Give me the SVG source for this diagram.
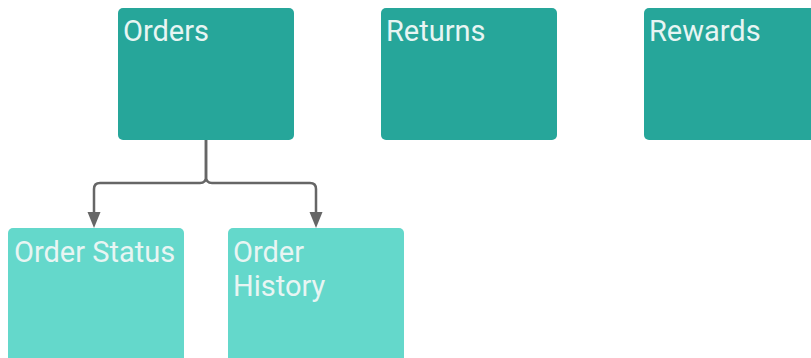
<svg xmlns="http://www.w3.org/2000/svg" width="811" height="358" viewBox="0 0 811 358">
<style>
.dark{fill:#26a69a}
.light{fill:#64d8cb}
.lbl{font-family:Roboto,"Liberation Sans",sans-serif;font-size:29px;fill:#e8f5f3}
.conn{fill:none;stroke:#666;stroke-width:2.5}
.head{fill:#666}
</style>
<rect width="811" height="358" fill="#fff"/>
<g id="orders"><rect class="dark" x="118" y="8" width="176" height="132" rx="5"/><text class="lbl" x="123" y="41">Orders</text></g>
<g id="returns"><rect class="dark" x="381" y="8" width="176" height="132" rx="5"/><text class="lbl" x="386" y="41">Returns</text></g>
<g id="rewards"><rect class="dark" x="644" y="8" width="176" height="132" rx="5"/><text class="lbl" x="649" y="41">Rewards</text></g>
<g id="order-status"><rect class="light" x="8" y="228" width="176" height="140" rx="5"/><text class="lbl" x="14" y="262">Order Status</text></g>
<g id="order-history"><rect class="light" x="228" y="228" width="176" height="140" rx="5"/><text class="lbl" x="233" y="262">Order</text><text class="lbl" x="233" y="296">History</text></g>
<g id="connectors">
<path class="conn" d="M206,140 V177 Q206,183 200,183 H100 Q94,183 94,189 V214"/>
<path class="conn" d="M206,140 V177 Q206,183 212,183 H310 Q316,183 316,189 V214"/>
<path class="head" d="M87.5,212 L100.5,212 L94,228 Z"/>
<path class="head" d="M309.5,212 L322.5,212 L316,228 Z"/>
</g>
</svg>
